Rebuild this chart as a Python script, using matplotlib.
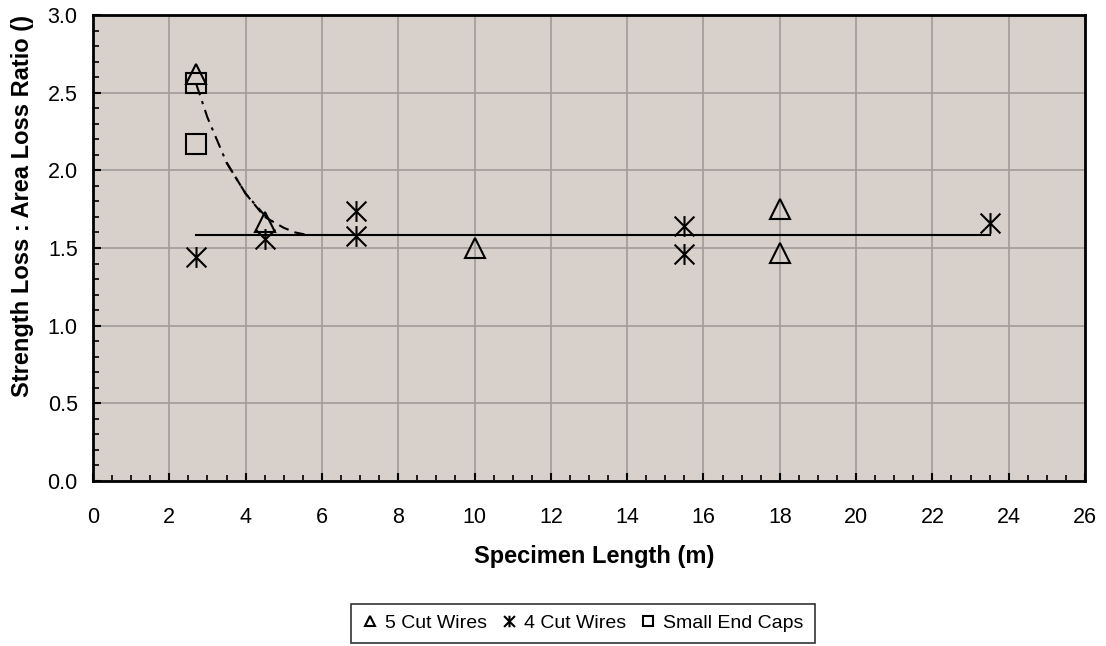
import numpy as np
import matplotlib.pyplot as plt
from matplotlib.path import Path
from matplotlib.ticker import MultipleLocator, FormatStrFormatter

plt.rcParams['font.family'] = ['Liberation Sans', 'DejaVu Sans']

# data
tri_x = [2.7, 4.5, 10.0, 18.0, 18.0]
tri_y = [2.62, 1.67, 1.50, 1.75, 1.47]

ast_x = [2.7, 4.5, 6.9, 6.9, 15.5, 15.5, 23.5]
ast_y = [1.44, 1.56, 1.74, 1.58, 1.64, 1.46, 1.66]

sq_x = [2.7, 2.7]
sq_y = [2.56, 2.17]

flat_x = [2.7, 23.5]
flat_y = [1.585, 1.585]

# fitted curves
c1_x = [2.7, 3.0, 3.5, 4.0, 4.5, 4.7]
c1_y = [2.56, 2.34, 2.05, 1.85, 1.71, 1.67]
c2_x = [3.5, 4.0, 4.5, 5.0, 5.3, 5.7]
c2_y = [2.05, 1.85, 1.70, 1.63, 1.60, 1.58]

star = Path([(0, -1), (0, 1), (-0.95, -0.95), (0.95, 0.95), (-0.95, 0.95), (0.95, -0.95)],
            [Path.MOVETO, Path.LINETO, Path.MOVETO, Path.LINETO, Path.MOVETO, Path.LINETO])

fig = plt.figure(figsize=(11.06, 6.46), dpi=100)
ax = fig.add_axes([93 / 1106, 1 - 481 / 646, 992 / 1106, 466 / 646])
ax.set_facecolor('#d8d0ca')

ax.plot(flat_x, flat_y, color='black', lw=1.5, zorder=3)
ax.plot(c1_x, c1_y, color='black', lw=1.5, linestyle=(0, (6, 3, 1.5, 3)), zorder=3)
ax.plot(c2_x, c2_y, color='black', lw=1.5, linestyle=(0, (5, 3)), zorder=3)

ax.plot(tri_x, tri_y, linestyle='none', marker='^', ms=14, mfc='none', mec='black', mew=1.5,
        label='5 Cut Wires', zorder=4)
ax.plot(ast_x, ast_y, linestyle='none', marker=star, ms=15, mfc='none', mec='black', mew=1.5,
        label='4 Cut Wires', zorder=4)
ax.plot(sq_x, sq_y, linestyle='none', marker='s', ms=14, mfc='none', mec='black', mew=1.5,
        label='Small End Caps', zorder=4)

ax.set_xlim(0, 26)
ax.set_ylim(0, 3.0)
ax.xaxis.set_major_locator(MultipleLocator(2))
ax.xaxis.set_minor_locator(MultipleLocator(0.5))
ax.yaxis.set_major_locator(MultipleLocator(0.5))
ax.yaxis.set_minor_locator(MultipleLocator(0.1))
ax.yaxis.set_major_formatter(FormatStrFormatter('%.1f'))
ax.grid(True, which='major', color='#a09c9a', lw=1.2, zorder=0)
ax.set_axisbelow(True)

ax.tick_params(which='both', direction='in', top=False, right=False, labelsize=15.5, color='black')
ax.tick_params(which='major', length=6, width=1.5)
ax.tick_params(axis='x', which='major', pad=19)
ax.tick_params(axis='y', which='major', pad=11)
ax.tick_params(which='minor', length=4, width=1.2)

for s in ax.spines.values():
    s.set_linewidth(2)
    s.set_color('black')

fig.text(594 / 1106, 1 - 557 / 646, 'Specimen Length (m)', fontsize=17, fontweight='bold',
         ha='center', va='center')
fig.text(23 / 1106, 1 - 206 / 646, 'Strength Loss : Area Loss Ratio ()', fontsize=17,
         fontweight='bold', rotation=90, ha='center', va='center')

leg = fig.legend(loc='center', bbox_to_anchor=(583 / 1106, 1 - 623 / 646), ncol=3, fontsize=14,
                 frameon=True, fancybox=False, edgecolor='black', markerscale=0.55,
                 handlelength=0.8, handletextpad=0.4, columnspacing=0.7, borderpad=0.55)
leg.get_frame().set_linewidth(1.2)

plt.savefig('out.png', dpi=100)
